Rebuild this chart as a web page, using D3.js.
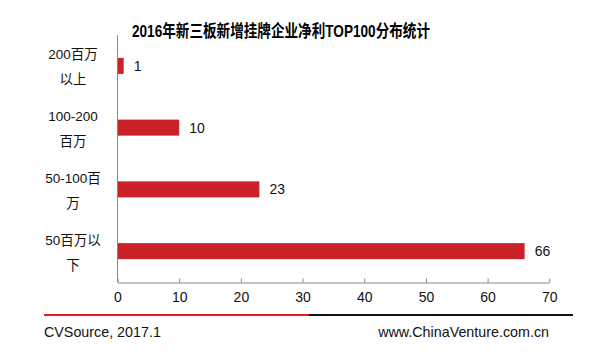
<!DOCTYPE html>
<html><head><meta charset="utf-8">
<script src="https://cdn.jsdelivr.net/npm/d3@7"></script>
<style>body{margin:0;background:#fff}svg{display:block}</style>
</head><body>
<script>
const categories = [["200百万","以上"],["100-200","百万"],["50-100百","万"],["50百万以","下"]];
const values = [1, 10, 23, 66];
const tickValues = [0,10,20,30,40,50,60,70];
const title = "2016年新三板新增挂牌企业净利TOP100分布统计";
const sourceText = "CVSource, 2017.1";
const siteText = "www.ChinaVenture.com.cn";

const W = 610, H = 357;
const font = "'Liberation Sans', Arial, 'Noto Sans CJK SC', sans-serif";
const svg = d3.select("body").append("svg").attr("width", W).attr("height", H);

const x = d3.scaleLinear().domain([0,70]).range([117.5, 549.3]);
const y = d3.scaleBand().domain(d3.range(categories.length)).range([35, 282]);
const barH = 16;

svg.append("text").attr("x", 132).attr("y", 36.5)
  .attr("textLength", 298).attr("lengthAdjust","spacingAndGlyphs")
  .style("font-family", font).style("font-size","16.5px").style("font-weight","bold")
  .attr("fill","#000").text(title);

// bars
svg.selectAll("rect.bar").data(values).enter().append("rect")
  .attr("x", x(0)).attr("y", (d,i)=> y(i)+y.bandwidth()/2-barH/2)
  .attr("width", d=> x(d)-x(0)).attr("height", barH).attr("fill","#CB2129");

svg.selectAll("text.val").data(values).enter().append("text")
  .attr("x", d=> x(d)+10).attr("y", (d,i)=> y(i)+y.bandwidth()/2+5)
  .style("font-family", font).style("font-size","14px").attr("fill","#111")
  .text(d=>d);

// category labels
categories.forEach((c,i)=>{
  const cy = y(i)+y.bandwidth()/2;
  const t = svg.append("text").attr("text-anchor","middle")
    .style("font-family", font).style("font-size","13.5px").attr("fill","#111");
  t.append("tspan").attr("x", 73).attr("y", cy-6.5).text(c[0]);
  t.append("tspan").attr("x", 73).attr("y", cy+18.5).text(c[1]);
});

// y axis line
svg.append("line").attr("x1", x(0)).attr("x2", x(0)).attr("y1", 35).attr("y2", 282.5)
  .attr("stroke","#888").attr("stroke-width",1);

// x axis
const xAxis = d3.axisBottom(x).tickValues(tickValues).tickSize(-4).tickSizeOuter(0).tickPadding(10);
const gx = svg.append("g").attr("transform","translate(0,282.5)").call(xAxis);
gx.select(".domain").attr("stroke","#888");
gx.selectAll(".tick line").attr("stroke","#888");
gx.selectAll(".tick text").style("font-family", font).style("font-size","14px").attr("fill","#111");

// footer lines
svg.append("line").attr("x1",44).attr("x2",309).attr("y1",315).attr("y2",315).attr("stroke","#F0191E").attr("stroke-width",2);
svg.append("line").attr("x1",309).attr("x2",573).attr("y1",315).attr("y2",315).attr("stroke","#111").attr("stroke-width",2);

svg.append("text").attr("x",44).attr("y",337).style("font-family",font).style("font-size","14.3px").attr("fill","#111").text(sourceText);
svg.append("text").attr("x",549).attr("y",337).attr("text-anchor","end").style("font-family",font).style("font-size","14.3px").attr("fill","#111").text(siteText);
</script>
</body></html>
